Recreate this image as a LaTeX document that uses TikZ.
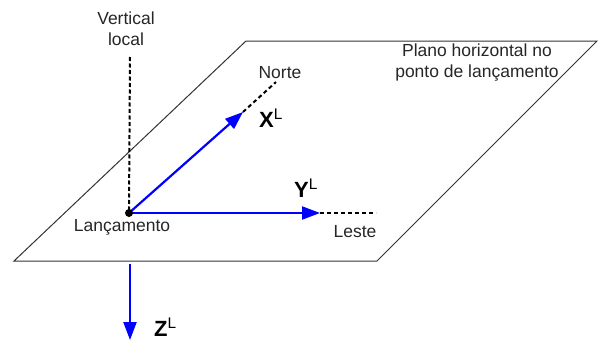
\documentclass[tikz,border=0pt]{standalone}
\usepackage{fontspec}
\setmainfont{Liberation Sans}
\usetikzlibrary{arrows.meta}
\begin{document}
\begin{tikzpicture}[x=1pt,y=-1pt,
  lbl/.style={inner sep=0pt,font=\fontsize{17.5}{21}\selectfont,text=black!85},
  axlbl/.style={inner sep=0pt,text depth=0pt,anchor=base west,font=\fontsize{22}{24}\selectfont\bfseries},
  axis/.style={draw=blue,line width=2.2pt,-{Triangle[length=18pt,width=13pt]}},
  ext/.style={draw=black,line width=2pt,dash pattern=on 4pt off 3pt},
  plane/.style={draw=black!80,line width=1pt}]
\useasboundingbox (0,0) rectangle (598,340);
% plane
\coordinate (p1) at (14,261);
\coordinate (p2) at (246,41);
\coordinate (p3) at (597,41);
\coordinate (p4) at (377,261);
\draw[plane] (p1) -- (p2) -- (p3) -- (p4) -- cycle;
% points
\coordinate (O) at (129,213);
\coordinate (vtop) at (130,57);
\coordinate (xtip) at (243,112);
\coordinate (xend) at (276,82);
\coordinate (ytip) at (320,213);
\coordinate (yend) at (376,213);
\coordinate (zs) at (130,264);
\coordinate (ze) at (130,340);
% vertical local
\draw[ext,dash pattern=on 4pt off 2.5pt] (vtop) -- (O);
% extensions
\draw[ext] (xtip) -- (xend);
\draw[ext] (ytip) -- (yend);
% axes
\draw[axis] (O) -- (xtip);
\draw[axis] (O) -- (ytip);
\draw[axis] (zs) -- (ze);
\fill[black] (O) circle (4pt);
% labels
\node[lbl,align=center] (vl) at (126,29) {Vertical\\local};
\node[lbl] (la) at (122,227) {Lançamento};
\node[lbl] (no) at (280,73) {Norte};
\node[lbl] (le) at (355,232) {Leste};
\node[lbl,align=center] (pl) at (477,63) {Plano horizontal no\\ponto de lançamento};
\node[axlbl] (xl) at (259,127) {X\textsuperscript{\normalfont L}};
\node[axlbl] (yl) at (294,197) {Y\textsuperscript{\normalfont L}};
\node[axlbl] (zl) at (154,336) {Z\textsuperscript{\normalfont L}};
\end{tikzpicture}
\end{document}
